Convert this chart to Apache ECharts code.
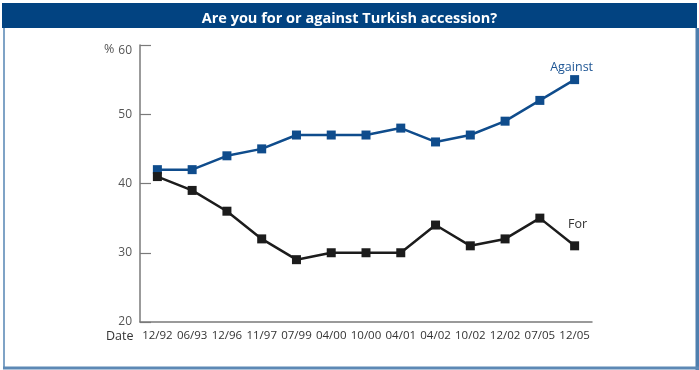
<!DOCTYPE html>
<html>
<head>
<meta charset="utf-8">
<script src="https://cdn.jsdelivr.net/npm/echarts@6/dist/echarts.min.js"></script>
<style>
  html, body { margin: 0; padding: 0; background: #fff; }
  #chart { width: 699px; height: 370px; }
</style>
</head>
<body>
<div id="chart"></div>
<script>
// Survey dates (month/year)
const categories = ['12/92', '06/93', '12/96', '11/97', '07/99', '04/00', '10/00',
                    '04/01', '04/02', '10/02', '12/02', '07/05', '12/05'];
// Share of respondents, in percent
const against = [42, 42, 44, 45, 47, 47, 47, 48, 46, 47, 49, 52, 55];
const forVals = [41, 39, 36, 32, 29, 30, 30, 30, 34, 31, 32, 35, 31];
const yTicks = { min: 20, max: 60, step: 10 };

const FONT = '"Open Sans", "Liberation Sans", sans-serif';
const BLUE = '#0f4c8c';
const DARK = '#1c1c1c';

// Put a name label on the last point of a series only
function withEndLabel(values, name, color, offset) {
  return values.map((v, i) => i === values.length - 1
    ? { value: v, label: { show: true, position: 'top', offset: offset, formatter: name,
        color: color, fontFamily: FONT, fontSize: 12.5 } }
    : v);
}

const chart = echarts.init(document.getElementById('chart'), null, { renderer: 'canvas' });
chart.setOption({
  animation: false,
  backgroundColor: '#fff',
  title: {
    text: 'Are you for or against Turkish accession?',
    left: 'center', top: 6,
    textStyle: { color: '#fff', fontFamily: FONT, fontWeight: 'bold', fontSize: 14.5 }
  },
  graphic: [
    // header bar
    { type: 'rect', z: -1, shape: { x: 2, y: 3, width: 695, height: 25 }, style: { fill: '#024381' } },
    // frame
    { type: 'rect', shape: { x: 3, y: 28, width: 2, height: 340 }, style: { fill: '#7fa3c6' } },
    { type: 'rect', shape: { x: 695.5, y: 28, width: 3.5, height: 342 }, style: { fill: '#4f7fae' } },
    { type: 'rect', shape: { x: 3, y: 366.5, width: 696, height: 3 }, style: { fill: '#5d89b5' } },
    // axis captions
    { type: 'text', left: 104, top: 43, style: { text: '%', fill: '#555', font: '12.5px ' + FONT } },
    { type: 'text', left: 106, top: 330, style: { text: 'Date', fill: '#333', font: '12.5px ' + FONT } }
  ],
  grid: { left: 140, right: 107, top: 45, bottom: 48, containLabel: false },
  xAxis: {
    type: 'category',
    data: categories,
    boundaryGap: true,
    axisLine: { lineStyle: { color: '#7a7a7a', width: 1.5 } },
    axisTick: { alignWithLabel: true, inside: true, length: 7, lineStyle: { color: '#7a7a7a', width: 1.2 } },
    axisLabel: { color: '#333', fontFamily: FONT, fontSize: 11.5, margin: 8, interval: 0 },
    splitLine: { show: false }
  },
  yAxis: {
    type: 'value',
    min: yTicks.min, max: yTicks.max, interval: yTicks.step,
    axisLine: { show: true, lineStyle: { color: '#7a7a7a', width: 1.5 } },
    axisTick: { show: true, inside: true, length: 11, lineStyle: { color: '#7a7a7a', width: 1.2 } },
    axisLabel: {
      color: '#555', fontFamily: FONT, fontSize: 12, margin: 8,
      // top label sits a little below its tick, next to the % sign
      formatter: v => v === yTicks.max ? '{top|' + v + '}' : String(v),
      rich: { top: { padding: [11, 0, 0, 0], color: '#555', fontFamily: FONT, fontSize: 12 } }
    },
    splitLine: { show: false }
  },
  series: [
    {
      name: 'Against', type: 'line',
      data: withEndLabel(against, 'Against', '#1d5594', [-3, 4]),
      symbol: 'rect', symbolSize: 9,
      lineStyle: { color: BLUE, width: 2.5 },
      itemStyle: { color: BLUE }
    },
    {
      name: 'For', type: 'line',
      data: withEndLabel(forVals, 'For', '#333', [3, -5]),
      symbol: 'rect', symbolSize: 9,
      lineStyle: { color: DARK, width: 2.5 },
      itemStyle: { color: DARK }
    }
  ]
});
</script>
</body>
</html>
